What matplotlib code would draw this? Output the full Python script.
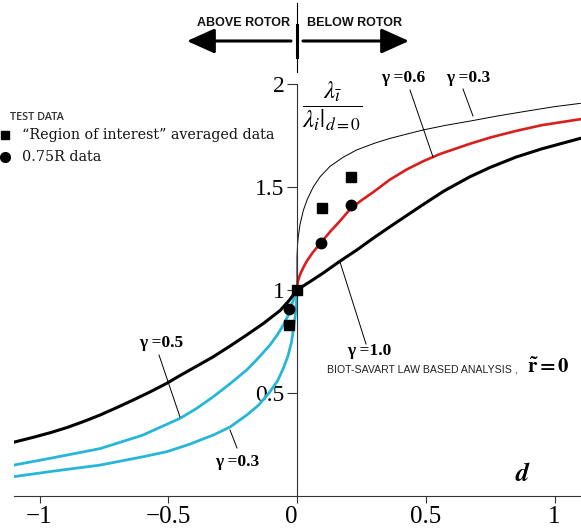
import matplotlib
matplotlib.use("Agg")
import matplotlib.pyplot as plt
import matplotlib.transforms as mtransforms
from matplotlib.patches import FancyArrowPatch
from matplotlib.lines import Line2D

W, H = 581, 532

# ---- data ----
g10_x = [-1.1, -1.024, -0.959, -0.894, -0.83, -0.765, -0.70, -0.636, -0.571, -0.506, -0.454,
         -0.39, -0.325, -0.26, -0.195, -0.13, -0.066, -0.03, 0.0,
         0.05, 0.10, 0.167, 0.232, 0.30, 0.361, 0.43, 0.49, 0.57, 0.672, 0.75, 0.85, 0.95, 1.1]
g10_y = [0.261, 0.285, 0.307, 0.332, 0.361, 0.393, 0.429, 0.466, 0.505, 0.547, 0.585,
         0.63, 0.676, 0.728, 0.782, 0.838, 0.9, 0.95, 1.0,
         1.04, 1.081, 1.14, 1.194, 1.255, 1.307, 1.365, 1.415, 1.48, 1.55, 1.595, 1.645, 1.685, 1.736]

g05_x = [-1.1, -0.95, -0.765, -0.6, -0.454, -0.39, -0.325, -0.26, -0.195, -0.15, -0.105,
         -0.075, -0.053, -0.035, -0.021, -0.008, 0.0]
g05_y = [0.15, 0.185, 0.23, 0.295, 0.377, 0.425, 0.482, 0.545, 0.612, 0.67, 0.733,
         0.785, 0.83, 0.875, 0.927, 0.97, 1.0]

g03L_x = [-1.1, -0.95, -0.765, -0.6, -0.506, -0.42, -0.325, -0.26, -0.195, -0.15, -0.105,
          -0.075, -0.053, -0.035, -0.021, -0.008, -0.001, 0.0]
g03L_y = [0.094, 0.12, 0.15, 0.19, 0.215, 0.25, 0.296, 0.335, 0.393, 0.44, 0.506,
          0.56, 0.62, 0.68, 0.749, 0.863, 0.96, 1.0]

g06_x = [0.0, 0.001, 0.004, 0.012, 0.025, 0.038, 0.06, 0.093, 0.13, 0.167, 0.208, 0.25,
         0.296, 0.36, 0.426, 0.49, 0.555, 0.672, 0.75, 0.85, 0.95, 1.1]
g06_y = [1.0, 1.025, 1.045, 1.075, 1.11, 1.14, 1.18, 1.23, 1.285, 1.335, 1.395, 1.435,
         1.475, 1.535, 1.585, 1.625, 1.66, 1.71, 1.74, 1.772, 1.80, 1.829]

g03R_x = [0.0, 0.0, 0.002, 0.005, 0.012, 0.025, 0.04, 0.063, 0.09, 0.128, 0.18, 0.232,
          0.30, 0.361, 0.43, 0.49, 0.58, 0.672, 0.78, 0.9, 1.0, 1.1]
g03R_y = [1.0, 1.16, 1.22, 1.259, 1.32, 1.388, 1.44, 1.50, 1.55, 1.60, 1.645, 1.68,
          1.712, 1.736, 1.758, 1.777, 1.80, 1.82, 1.845, 1.87, 1.89, 1.906]

sq_x = [-0.03, 0.0, 0.096, 0.208]
sq_y = [0.83, 1.0, 1.40, 1.55]
ci_x = [-0.03, 0.093, 0.208]
ci_y = [0.906, 1.227, 1.413]

xticks = [-1, -0.5, 0, 0.5, 1]
xticklabels = ["\u22121", "\u22120.5", "0", "0.5", "1"]
yticks = [0.5, 1, 1.5, 2]
yticklabels = ["0.5", "1", "1.5", "2"]

# ---- figure ----
plt.rcParams['mathtext.fontset'] = 'stix'
fig = plt.figure(figsize=(W / 100, H / 100), dpi=100)
fig.patch.set_facecolor('white')

x0_px, y0_px = 297.0, 496.0
sx, sy = 257.5, 206.0
xmin = (14 - x0_px) / sx
xmax = (W - x0_px) / sx
ymax = y0_px / sy
ax = fig.add_axes([14 / W, (H - y0_px) / H, (W - 14) / W, y0_px / H])
ax.set_xlim(xmin, xmax)
ax.set_ylim(0, ymax)
ax.patch.set_alpha(0)

for s in ['top', 'right']:
    ax.spines[s].set_visible(False)
ax.spines['left'].set_position(('data', 0))
ax.spines['left'].set_bounds(0, 2)
for s in ['left', 'bottom']:
    ax.spines[s].set_linewidth(0.8)
    ax.spines[s].set_color('#333333')

serif = ['Liberation Serif', 'DejaVu Serif']
ax.set_xticks(xticks)
ax.set_xticklabels(xticklabels, family=serif, fontsize=18)
ax.set_yticks(yticks)
ax.set_yticklabels(yticklabels, family=serif, fontsize=17)
ax.tick_params(axis='x', direction='out', length=5, width=0.8, color='#333333', pad=2)
ax.tick_params(axis='y', direction='out', length=7, width=0.8, color='#333333', pad=2)
# the "0" label sits slightly left of its tick in the reference
for lab in ax.get_xticklabels():
    if lab.get_text() == "0":
        lab.set_transform(lab.get_transform() +
                          mtransforms.ScaledTranslation(-6 / 100, 0, fig.dpi_scale_trans))

cyan = '#27b6d8'
red = '#d91e1e'
ax.plot(g05_x, g05_y, color=cyan, lw=2.0, solid_joinstyle='round')
ax.plot(g03L_x, g03L_y, color=cyan, lw=2.0, solid_joinstyle='round')
ax.plot(g03R_x, g03R_y, color='black', lw=0.7)
ax.plot(g06_x, g06_y, color=red, lw=1.9, solid_joinstyle='round')
ax.plot(g10_x, g10_y, color='black', lw=2.2, solid_joinstyle='round')
ax.plot(sq_x, sq_y, 's', color='black', ms=7, zorder=5)
ax.plot(ci_x, ci_y, 'o', color='black', ms=7.5, zorder=5)


def P(px, py):
    return (px / W, 1 - py / H)


def pline(x1, y1, x2, y2, lw=0.7):
    fig.add_artist(Line2D([x1 / W, x2 / W], [1 - y1 / H, 1 - y2 / H], color='black', lw=lw,
                          transform=fig.transFigure))


# leader lines
pline(410, 90, 433, 157)
pline(463, 89, 473, 116)
pline(340, 262, 366, 344)
pline(159, 355, 180, 417)
pline(230, 430, 237, 448)

gkw = dict(family=serif, fontsize=12.5, weight='bold', ha='center', va='center')
fig.text(*P(403, 78), "\u03b3 =0.6", **gkw)
fig.text(*P(468, 78), "\u03b3 =0.3", **gkw)
fig.text(*P(369, 351), "\u03b3 =1.0", **gkw)
fig.text(*P(161, 343), "\u03b3 =0.5", **gkw)
fig.text(*P(237, 462), "\u03b3 =0.3", **gkw)

fig.text(*P(327, 370), "BIOT-SAVART LAW BASED ANALYSIS ,",
         family=['Liberation Sans Narrow', 'Liberation Sans'], fontsize=7.6,
         color='#222222', ha='left', va='center')
fig.text(*P(527, 367), r"$\mathbf{\tilde{r}=0}$", fontsize=15, ha='left', va='center')

fig.text(*P(523, 474), r"$\boldsymbol{d}$", fontsize=19, ha='center', va='center')
fig.text(*P(332, 106), r"$\dfrac{\lambda_{\bar{\imath}}}{\lambda_i|_{d=0}}$", fontsize=18,
         ha='center', va='center')

# legend
fig.text(*P(10, 117), "TEST DATA", family=['Open Sans', 'DejaVu Sans'], fontsize=7.8,
         color='#333333', ha='left', va='center', weight='semibold')
fig.add_artist(Line2D([5 / W], [1 - 135 / H], marker='s', color='black', ms=6,
                      transform=fig.transFigure, ls='none'))
fig.add_artist(Line2D([5 / W], [1 - 157 / H], marker='o', color='black', ms=7,
                      transform=fig.transFigure, ls='none'))
lkw = dict(family=['DejaVu Serif'], fontsize=10.3, ha='left', va='center', color='#111111')
fig.text(*P(22, 135), "\u201cRegion of interest\u201d averaged data", **lkw)
fig.text(*P(22, 157), "0.75R data", **lkw)

# rotor arrows and divider
fig.add_artist(Line2D([297 / W, 297 / W], [1 - 3 / H, 1 - 72 / H], color='black', lw=0.8,
                      transform=fig.transFigure))
fig.add_artist(Line2D([297 / W, 297 / W], [1 - 25 / H, 1 - 57 / H], color='black', lw=2.2,
                      transform=fig.transFigure))
for a, b in [((291, 41), (187, 41)), ((303, 41), (409, 41))]:
    fig.add_artist(FancyArrowPatch(P(*a), P(*b), transform=fig.transFigure,
                                   arrowstyle='-|>,head_length=1.0,head_width=0.45',
                                   mutation_scale=17, lw=2.2, color='black',
                                   shrinkA=0, shrinkB=0))
akw = dict(family=['Liberation Sans', 'DejaVu Sans'], fontsize=9, weight='bold',
           va='center', color='#111111')
fig.text(*P(290, 23), "ABOVE ROTOR", ha='right', **akw)
fig.text(*P(307, 23), "BELOW ROTOR", ha='left', **akw)

fig.savefig("out.png", dpi=100, facecolor='white')
